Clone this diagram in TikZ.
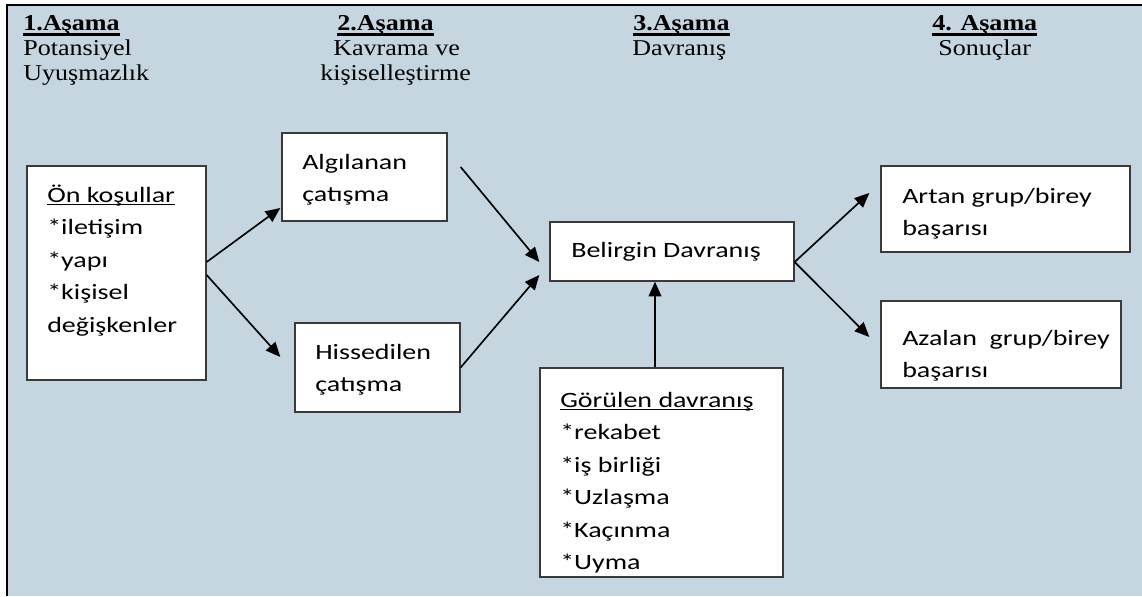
\documentclass[tikz,border=0pt]{standalone}
\usepackage{fontspec}
\setmainfont{Liberation Serif}[FakeStretch=1.15]
\newfontfamily\calfont{Carlito}[FakeStretch=1.28]
\usetikzlibrary{arrows.meta,calc}
\definecolor{bgblue}{HTML}{C5D6E0}
\definecolor{boxline}{HTML}{3A3A3A}
\newcommand{\stack}[1]{\begin{tabular}[t]{@{}l@{}}#1\end{tabular}}
\newcommand{\myul}[3]{\leavevmode\setbox0=\hbox{#3}\rlap{\rule[-#1]{\wd0}{#2}}\box0}
\begin{document}
\begin{tikzpicture}[x=0.75pt,y=-0.75pt,
  box/.style={draw=boxline,fill=white,line width=1pt,rectangle,inner sep=0pt},
  boxtext/.style={anchor=base west,inner sep=0pt,font=\calfont\fontsize{16.4}{24.4}\selectfont},
  head/.style={anchor=base west,inner sep=0pt,font=\fontsize{17}{18.4}\selectfont},
  arr/.style={-{Triangle[length=11pt,width=9.5pt]},line width=1.25pt,black}]
\useasboundingbox (0,0) rectangle (1142,596);
\fill[bgblue] (7,5) rectangle (1142,596);
\draw[line width=1.5pt] (7,596) -- (7,5) -- (1142,5);

% headings
\node[head] (h1a) at (23,31) {\textbf{\myul{3.75pt}{2.2pt}{1.Aşama}}};
\node[head] (h1b) at (23,55) {Potansiyel};
\node[head] (h1c) at (23,80) {Uyuşmazlık};
\node[head] (h2a) at (337,31) {\textbf{\myul{3.75pt}{2.2pt}{2.Aşama}}};
\node[head] (h2b) at (333,55) {Kavrama ve};
\node[head] (h2c) at (320,80) {kişiselleştirme};
\node[head] (h3a) at (633,31) {\textbf{\myul{3.75pt}{2.2pt}{3.Aşama}}};
\node[head] (h3b) at (632,55) {Davranış};
\node[head] (h4a) at (932,31) {\textbf{\myul{3.75pt}{2.2pt}{4. Aşama}}};
\node[head] (h4b) at (938,55) {Sonuçlar};

% boxes
\node[box,minimum width=134.25pt,minimum height=160.5pt] (pre) at (116.5,273) {};
\node[box,minimum width=123.75pt,minimum height=66pt] (alg) at (364.5,177) {};
\node[box,minimum width=123.75pt,minimum height=66.75pt] (his) at (377.5,367.5) {};
\node[box,minimum width=183pt,minimum height=44.25pt] (bel) at (672,251.5) {};
\node[box,minimum width=182.25pt,minimum height=156.75pt] (gor) at (661.5,472.5) {};
\node[box,minimum width=186.75pt,minimum height=64.5pt] (art) at (1005.5,209) {};
\node[box,minimum width=180pt,minimum height=65.25pt] (aza) at (1001,344.5) {};

% box texts
\node[boxtext] (pret) at (47,202) {\stack{\myul{2.4pt}{1.1pt}{Ön koşullar}\\{}*iletişim\\{}*yapı\\{}*kişisel\\{}değişkenler}};
\node[boxtext] (algt) at (302,169) {\stack{Algılanan\\{}çatışma}};
\node[boxtext] (hist) at (315,359) {\stack{Hissedilen\\{}çatışma}};
\node[boxtext] (belt) at (571,257) {Belirgin Davranış};
\node[boxtext] (gort) at (560,407) {\stack{\myul{2.4pt}{1.1pt}{Görülen davranış}\\{}*rekabet\\{}*iş birliği\\{}*Uzlaşma\\{}*Kaçınma\\{}*Uyma}};
\node[boxtext] (artt) at (902,203) {\stack{Artan grup/birey\\{}başarısı}};
\node[boxtext] (azat) at (902,345) {\stack{Azalan~ grup/birey\\{}başarısı}};

% connectors
\draw[arr] ($(pre.east)+(0,-11)$) -- ($(alg.west)+(-1,31)$);
\draw[arr] ($(pre.east)+(0,2)$) -- ($(his.west)+(-14,-10.5)$);
\draw[arr] ($(alg.east)+(13,-10)$) -- ($(bel.west)+(-10,10.5)$);
\draw[arr] (his.east) -- ($(bel.west)+(-10,23.5)$);
\draw[arr] ($(gor.north)+(-6.5,0)$) -- ($(bel.south)+(-17,0)$);
\draw[arr] ($(bel.east)+(0,10.5)$) -- ($(art.west)+(-11,-16)$);
\draw[arr] ($(bel.east)+(0,10.5)$) -- ($(aza.west)+(-11,-7.5)$);
\end{tikzpicture}
\end{document}
